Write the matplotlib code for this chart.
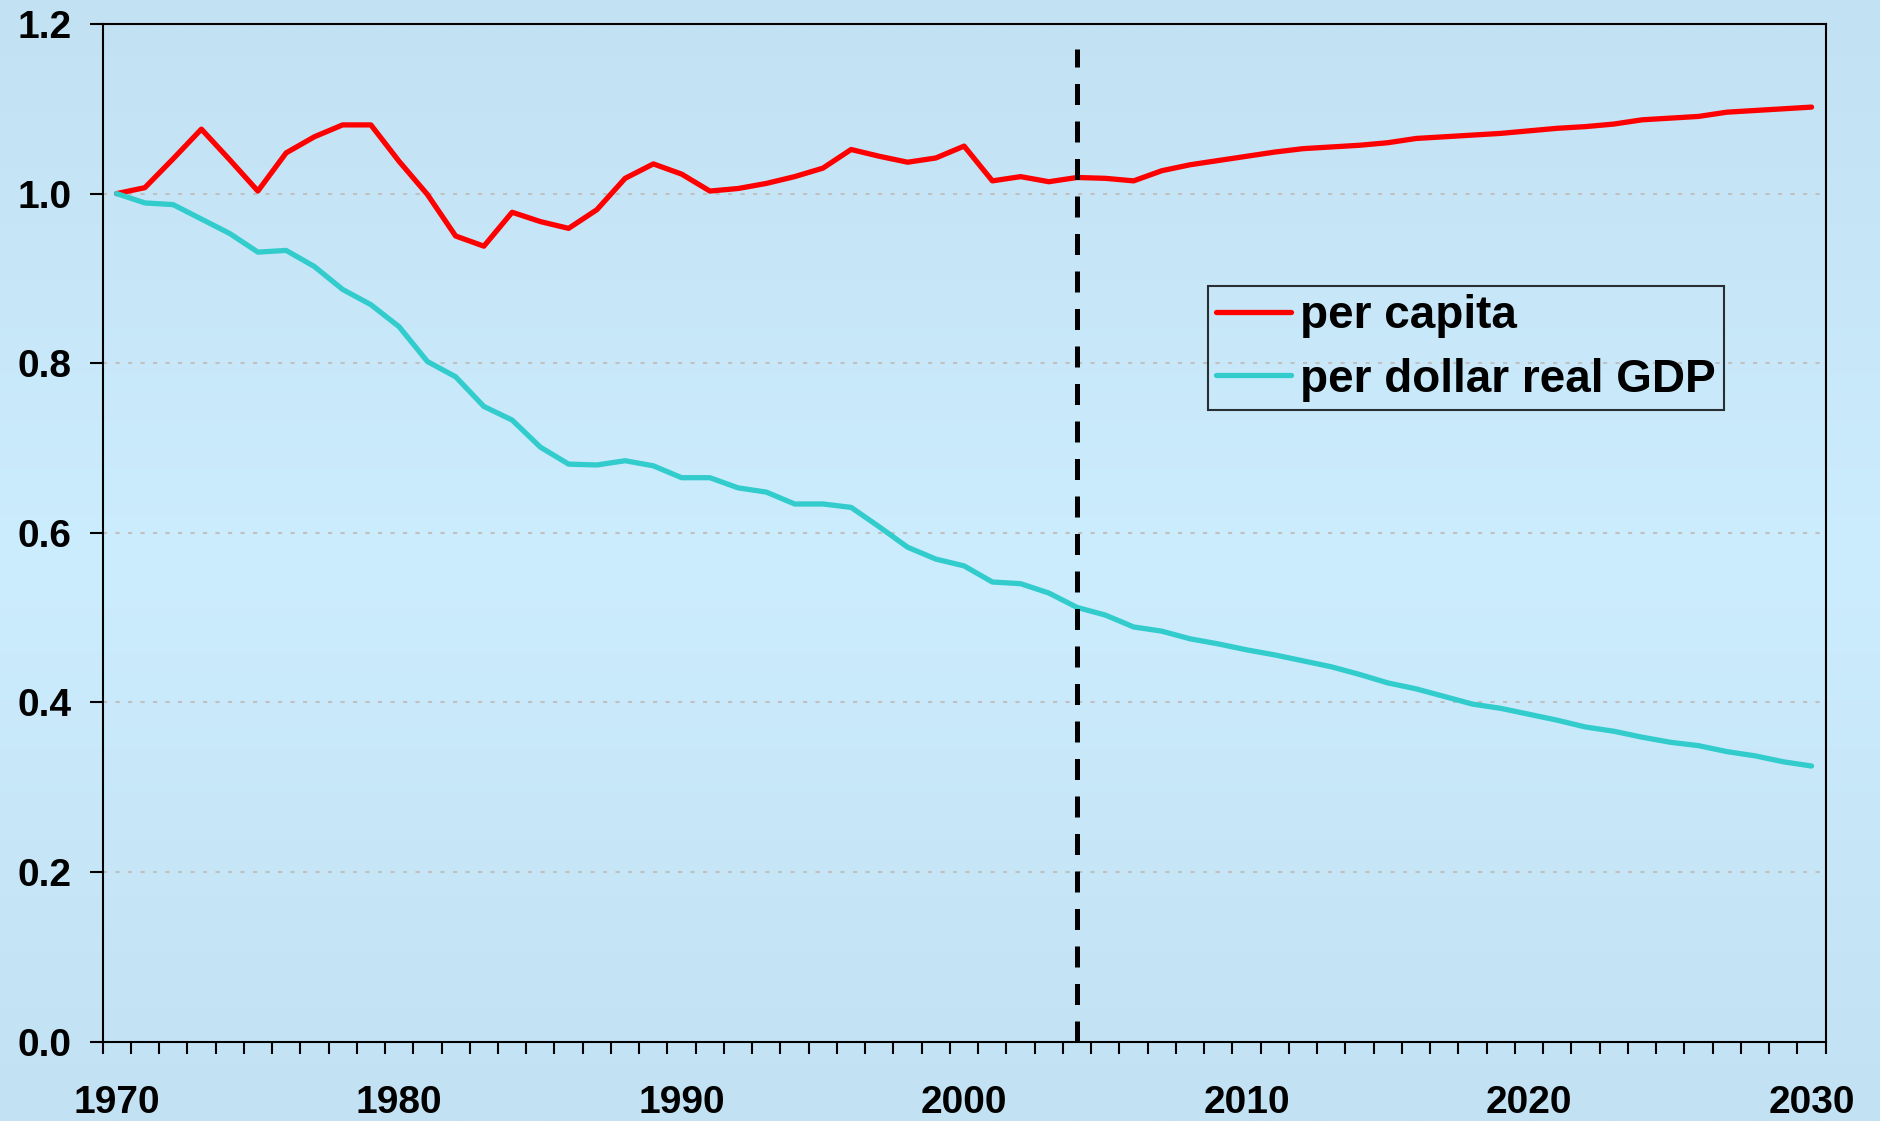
import numpy as np
import matplotlib
matplotlib.use("Agg")
import matplotlib.pyplot as plt
from matplotlib.ticker import FormatStrFormatter

# data
years = list(range(1970, 2031))
per_capita = [1.000, 1.007, 1.041, 1.076, 1.040, 1.003, 1.048, 1.067, 1.081, 1.081,
              1.038, 0.999, 0.950, 0.938, 0.978, 0.967, 0.959, 0.981, 1.018, 1.035,
              1.023, 1.003, 1.006, 1.012, 1.020, 1.030, 1.052, 1.044, 1.037, 1.042,
              1.056, 1.015, 1.020, 1.014, 1.019, 1.018, 1.015, 1.027, 1.034, 1.039,
              1.044, 1.049, 1.053, 1.055, 1.057, 1.060, 1.065, 1.067, 1.069, 1.071,
              1.074, 1.077, 1.079, 1.082, 1.087, 1.089, 1.091, 1.096, 1.098, 1.100,
              1.102]
per_gdp = [1.000, 0.989, 0.987, 0.970, 0.953, 0.931, 0.933, 0.914, 0.887, 0.869,
           0.843, 0.802, 0.784, 0.749, 0.733, 0.701, 0.681, 0.680, 0.685, 0.679,
           0.665, 0.665, 0.653, 0.648, 0.634, 0.634, 0.630, 0.607, 0.583, 0.569,
           0.561, 0.542, 0.540, 0.529, 0.512, 0.503, 0.489, 0.484, 0.475, 0.469,
           0.462, 0.456, 0.449, 0.442, 0.433, 0.423, 0.416, 0.407, 0.398, 0.393,
           0.386, 0.379, 0.371, 0.366, 0.359, 0.353, 0.349, 0.342, 0.337, 0.330,
           0.325]
series_labels = ["per capita", "per dollar real GDP"]
split_year = 2004
x_ticks = [1970, 1980, 1990, 2000, 2010, 2020, 2030]
y_ticks = [0.0, 0.2, 0.4, 0.6, 0.8, 1.0, 1.2]

plt.rcParams['font.family'] = ['Liberation Sans', 'DejaVu Sans']
plt.rcParams['font.weight'] = 'bold'

fig = plt.figure(figsize=(18.81, 11.21), dpi=100)

# slide style background gradient
bg = fig.add_axes([0, 0, 1, 1], zorder=-10)
edge = np.array([194, 225, 243]) / 255.0
mid = np.array([204, 237, 254]) / 255.0
t = np.linspace(0, 1, 400)
w = 1 - np.abs(t - 0.5) * 2
grad = edge[None, :] * (1 - w[:, None]) + mid[None, :] * w[:, None]
bg.imshow(grad[:, None, :], aspect='auto', extent=[0, 1, 0, 1])
bg.axis('off')

ax = fig.add_axes([0.0545, 0.0708, 0.9161, 0.9078])
ax.patch.set_alpha(0)

ax.plot(years, per_capita, color='#ff0000', lw=3.8, label=series_labels[0],
        solid_joinstyle='round', solid_capstyle='round', zorder=3)
ax.plot(years, per_gdp, color='#33cccc', lw=3.8, label=series_labels[1],
        solid_joinstyle='round', solid_capstyle='round', zorder=3)
ax.plot([split_year, split_year], [0, 1.17], color='black', lw=3.6,
        linestyle=(0, (4.2, 3.3)), zorder=4)

ax.set_xlim(1969.5, 2030.5)
ax.set_ylim(0, 1.2)
ax.set_yticks(y_ticks)
ax.yaxis.set_major_formatter(FormatStrFormatter('%.1f'))
ax.set_xticks(x_ticks)
ax.set_xticks(np.arange(1969.5, 2031, 1), minor=True)
ax.tick_params(axis='x', which='major', length=0, pad=31, labelsize=28)
ax.tick_params(axis='x', which='minor', length=8.6, width=1.5, direction='out')
ax.tick_params(axis='y', length=9.4, width=1.5, direction='out', pad=13, labelsize=28)
for lab in ax.get_xticklabels() + ax.get_yticklabels():
    lab.set_fontweight('bold')

ax.yaxis.grid(True, linestyle=(0, (2, 4)), color='#c0c0c0', lw=1.5)
ax.set_axisbelow(True)
for s in ax.spines.values():
    s.set_linewidth(1.5)
    s.set_color('black')

leg = ax.legend(loc='upper left', bbox_to_anchor=(0.6416, 0.7425), borderaxespad=0,
                handlelength=1.62, handletextpad=0.2,
                labelspacing=0.42, borderpad=0.18, fancybox=False,
                prop={'weight': 'bold', 'size': 33})
leg.get_frame().set_edgecolor('black')
leg.get_frame().set_linewidth(1.5)
leg.get_frame().set_facecolor('none')

fig.savefig('out.png', dpi=100)
